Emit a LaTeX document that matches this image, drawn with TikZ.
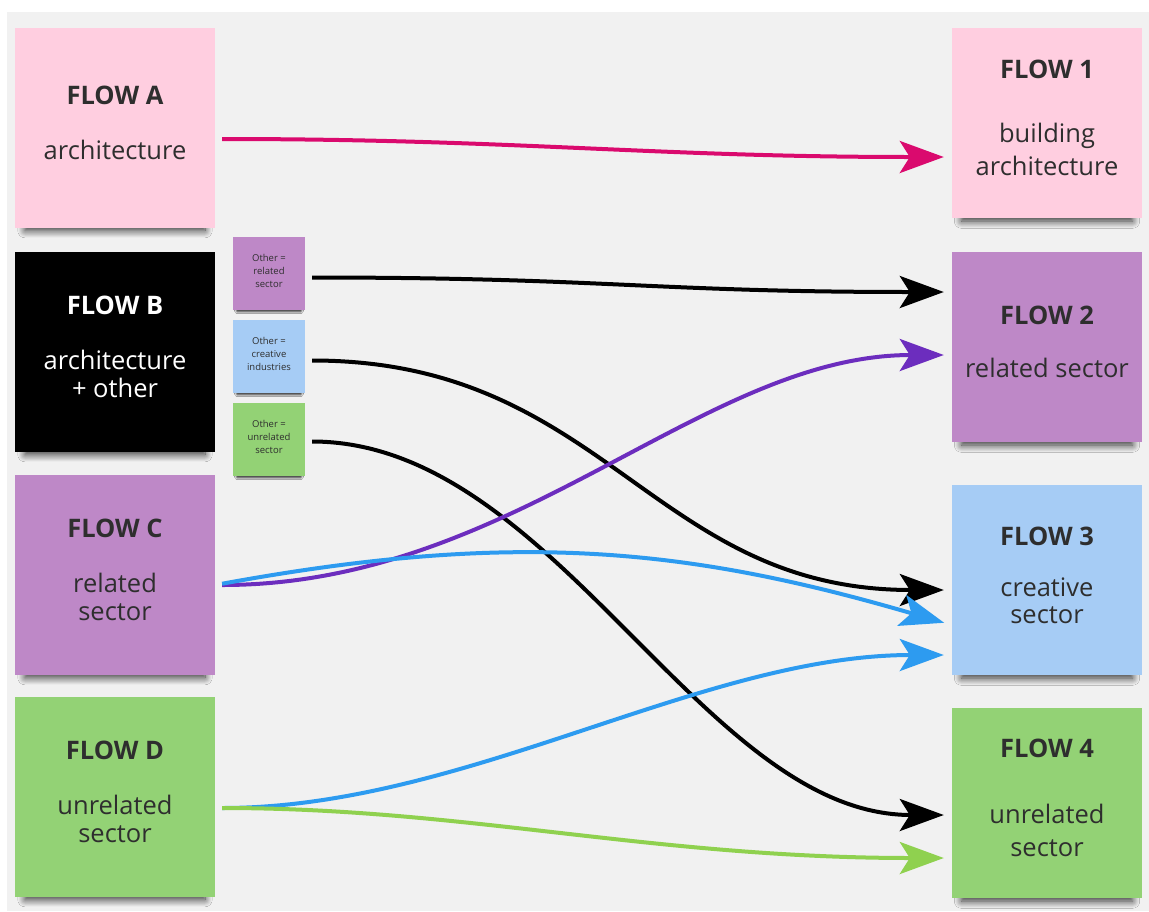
\documentclass[tikz,border=0pt]{standalone}
\usepackage{fontspec}
\setmainfont{Open Sans}
\usetikzlibrary{arrows.meta,shadows.blur}

\definecolor{boardgray}{HTML}{F1F1F1}
\definecolor{inkgray}{HTML}{2E2E2E}
\definecolor{notepink}{HTML}{FFCEE0}
\definecolor{notepurple}{HTML}{BE88C7}
\definecolor{noteblue}{HTML}{A6CCF5}
\definecolor{notegreen}{HTML}{93D275}
\definecolor{flowmagenta}{HTML}{DA0A6E}
\definecolor{flowpurple}{HTML}{6C2DBE}
\definecolor{flowblue}{HTML}{2D9BF0}
\definecolor{flowgreen}{HTML}{8FD14F}

\tikzset{
  sticky/.style={minimum width=200pt, minimum height=200pt, align=center,
    text=inkgray, font=\fontsize{25.5}{28}\selectfont, text depth=10pt,
    blur shadow={shadow xshift=0pt, shadow yshift=-14pt, shadow scale=0.9,
      shadow opacity=80, shadow blur radius=8pt, shadow blur steps=10}},
  rsticky/.style={sticky, minimum width=190pt, minimum height=190pt,
    font=\fontsize{25.5}{33}\selectfont},
  tag/.style={sticky, minimum width=72pt, minimum height=73pt,
    font=\fontsize{9.5}{13}\selectfont, text depth=6pt,
    blur shadow={shadow xshift=0pt, shadow yshift=-6pt, shadow scale=0.88,
      shadow opacity=70, shadow blur radius=3pt}},
  flow/.style={line width=4pt, -{Stealth[length=44pt,width=32pt,inset=10pt]},
    shorten <=7pt, shorten >=8pt},
}

\begin{document}
\begin{tikzpicture}[x=1pt,y=-1pt]
  \useasboundingbox (0,0) rectangle (1149,911);
  \fill [boardgray] (7,12) rectangle (1149,911);

  % left column
  \node [sticky, fill=notepink] (fa) at (115,128) {\textbf{FLOW A}\\[27pt]architecture};
  \node [sticky, fill=black, text=white] (fb) at (115,352) {\textbf{FLOW B}\\[27pt]architecture\\+ other};
  \node [sticky, fill=notepurple] (fc) at (115,575) {\textbf{FLOW C}\\[27pt]related\\sector};
  \node [sticky, fill=notegreen] (fd) at (115,797) {\textbf{FLOW D}\\[27pt]unrelated\\sector};

  % small notes next to flow B
  \node [tag, fill=notepurple] (orel) at (269,273.5) {Other =\\related\\sector};
  \node [tag, fill=noteblue] (ocre) at (269,356.5) {Other =\\creative\\industries};
  \node [tag, fill=notegreen] (ounr) at (269,439.5) {Other =\\unrelated\\sector};

  % right column
  \node [rsticky, fill=notepink] (f1) at (1047,123) {\textbf{FLOW 1}\\[31pt]building\\architecture};
  \node [rsticky, fill=notepurple] (f2) at (1047,347) {\textbf{FLOW 2}\\[20pt]related sector};
  \node [rsticky, fill=noteblue] (f3) at (1047,580) {\textbf{FLOW 3}\\[18pt]creative\\[-6pt]sector};
  \node [rsticky, fill=notegreen] (f4) at (1047,803) {\textbf{FLOW 4}\\[33pt]unrelated\\sector};

  % flows
  \draw [flow, flowmagenta] ([yshift=-11pt]fa.east) .. controls +(300,0) and +(-300,0) .. ([yshift=-34pt]f1.west);
  \draw [flow, black] ([yshift=-4pt]orel.east) .. controls +(300,0) and +(-300,0) .. ([yshift=55pt]f2.west);
  \draw [flow, black] ([yshift=-4pt]ocre.east) .. controls +(300,0) and +(-300,0) .. ([yshift=-10pt]f3.west);
  \draw [flow, black] ([yshift=-2pt]ounr.east) .. controls +(250,0) and +(-250,0) .. ([yshift=-12pt]f4.west);
  \draw [flow, flowpurple] ([yshift=-10pt]fc.east) .. controls +(300,0) and +(-250,0) .. ([yshift=-8pt]f2.west);
  \draw [flow, flowblue] ([yshift=-10pt]fc.east) .. controls +(300,-55) and +(-264,-77) .. ([yshift=-45pt]f3.west);
  \draw [flow, flowblue] ([yshift=-11pt]fd.east) .. controls +(250,0) and +(-250,0) .. ([yshift=-75pt]f3.west);
  \draw [flow, flowgreen] ([yshift=-11pt]fd.east) .. controls +(250,0) and +(-300,0) .. ([yshift=-55pt]f4.west);
\end{tikzpicture}
\end{document}
